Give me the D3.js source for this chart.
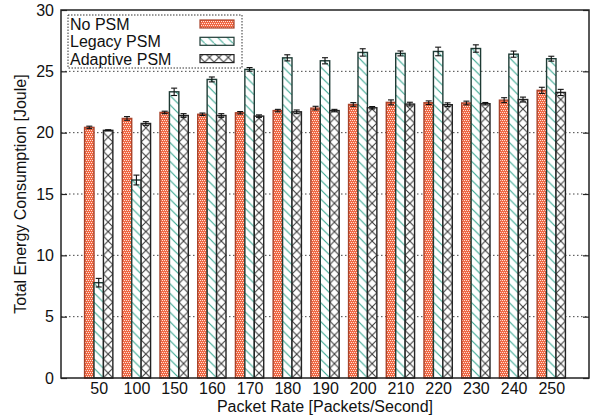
<!DOCTYPE html>
<html>
<head>
<meta charset="utf-8">
<script src="https://cdn.jsdelivr.net/npm/d3@7"></script>
<style>
  body { margin: 0; background: #fff; }
  svg { font-family: "Liberation Sans", Arial, Helvetica, sans-serif; }
</style>
</head>
<body>
<div id="chart"></div>
<script>
// packet rates on the x axis
const rates = ["50", "100", "150", "160", "170", "180", "190", "200", "210", "220", "230", "240", "250"];
const seriesNames = ["No PSM", "Legacy PSM", "Adaptive PSM"];

// energy values [Joule]
const noPsm    = [20.43, 21.16, 21.65, 21.50, 21.62, 21.80, 22.00, 22.30, 22.47, 22.44, 22.42, 22.65, 23.45];
const legacy   = [7.77, 16.14, 23.33, 24.34, 25.16, 26.10, 25.86, 26.54, 26.46, 26.62, 26.86, 26.40, 26.03];
const adaptive = [20.19, 20.75, 21.40, 21.40, 21.35, 21.70, 21.80, 22.03, 22.33, 22.28, 22.36, 22.70, 23.28];

// error bar half-widths
const noPsmErr    = [0.10, 0.15, 0.10, 0.10, 0.10, 0.10, 0.15, 0.15, 0.20, 0.15, 0.15, 0.20, 0.25];
const legacyErr   = [0.35, 0.40, 0.30, 0.20, 0.15, 0.25, 0.25, 0.30, 0.20, 0.35, 0.30, 0.25, 0.20];
const adaptiveErr = [0.05, 0.15, 0.15, 0.15, 0.10, 0.15, 0.10, 0.10, 0.15, 0.15, 0.10, 0.20, 0.25];

const yTicks = [0, 5, 10, 15, 20, 25, 30];

const margin = { top: 10, right: 5, bottom: 41, left: 61 },
  width = 594 - margin.left - margin.right,
  height = 419 - margin.top - margin.bottom;

const barW = 0.25; // in group units

const series = [
  { name: seriesNames[0], values: noPsm, err: noPsmErr, fill: "url(#pRed)", stroke: "#a8432b" },
  { name: seriesNames[1], values: legacy, err: legacyErr, fill: "url(#pGreen)", stroke: "#1e3b35" },
  { name: seriesNames[2], values: adaptive, err: adaptiveErr, fill: "url(#pCross)", stroke: "#222" }
];

const x = d3.scaleLinear().domain([-1, 13]).range([0, width]);
const y = d3.scaleLinear().domain([0, 30]).range([height, 0]);

const svgRoot = d3.select("#chart").append("svg")
  .attr("width", 594)
  .attr("height", 419);

const svg = svgRoot.append("g")
  .attr("transform", `translate(${margin.left},${margin.top})`);

// fill patterns
const defs = svgRoot.append("defs");
const bw = x(barW) - x(0);
const px0 = x(-1.5 * barW);

const pRed = defs.append("pattern")
  .attr("id", "pRed").attr("patternUnits", "userSpaceOnUse")
  .attr("width", 4).attr("height", 4);
pRed.append("rect").attr("width", 4).attr("height", 4).attr("fill", "#f06844");
[[0, 0], [2, 0], [1, 2], [3, 2]].forEach(p => {
  pRed.append("rect").attr("x", p[0]).attr("y", p[1]).attr("width", 1).attr("height", 1).attr("fill", "#fde3da");
});

const pGreen = defs.append("pattern")
  .attr("id", "pGreen").attr("patternUnits", "userSpaceOnUse")
  .attr("x", px0).attr("width", bw).attr("height", bw);
pGreen.append("rect").attr("width", bw).attr("height", bw).attr("fill", "#fff");
pGreen.append("line").attr("x1", 0).attr("y1", 0).attr("x2", bw).attr("y2", bw)
  .attr("stroke", "#3aa892").attr("stroke-width", 1.1);

const pCross = defs.append("pattern")
  .attr("id", "pCross").attr("patternUnits", "userSpaceOnUse")
  .attr("x", px0).attr("width", bw).attr("height", bw);
pCross.append("rect").attr("width", bw).attr("height", bw).attr("fill", "#fff");
pCross.append("path").attr("d", `M0,0L${bw},${bw}M${bw},0L0,${bw}`)
  .attr("stroke", "#3a3a3a").attr("stroke-width", 1.1).attr("fill", "none");

// grid lines
svg.append("g")
  .selectAll("line")
  .data(yTicks.filter(d => d > 0 && d < 30))
  .enter().append("line")
  .attr("x1", 0).attr("x2", width)
  .attr("y1", d => y(d)).attr("y2", d => y(d))
  .attr("stroke", "#444")
  .attr("stroke-width", 1)
  .attr("stroke-dasharray", "1.5,2.5");

// bars
series.forEach((s, k) => {
  const off = (k - 1) * barW - barW / 2;
  svg.append("g")
    .selectAll("rect")
    .data(s.values)
    .enter().append("rect")
    .attr("x", (d, i) => x(i + off))
    .attr("y", d => y(d))
    .attr("width", bw)
    .attr("height", d => y(0) - y(d))
    .attr("fill", s.fill)
    .attr("stroke", s.stroke)
    .attr("stroke-width", 1.4);
});

// error bars
series.forEach((s, k) => {
  const g = svg.append("g").attr("stroke", "#111").attr("stroke-width", 1.1);
  s.values.forEach((v, i) => {
    const cx = x(i + (k - 1) * barW);
    const e = s.err[i];
    g.append("line").attr("x1", cx).attr("x2", cx).attr("y1", y(v - e)).attr("y2", y(v + e));
    g.append("line").attr("x1", cx - 3).attr("x2", cx + 3).attr("y1", y(v - e)).attr("y2", y(v - e));
    g.append("line").attr("x1", cx - 3).attr("x2", cx + 3).attr("y1", y(v + e)).attr("y2", y(v + e));
  });
});

// axes
svg.append("g")
  .call(d3.axisLeft(y).tickValues(yTicks).tickSize(-6).tickPadding(7));
svg.append("g")
  .attr("transform", `translate(${width},0)`)
  .call(d3.axisRight(y).tickValues(yTicks).tickSize(-6).tickFormat(""));
const xAxis = svg.append("g")
  .attr("transform", `translate(0,${height})`)
  .call(d3.axisBottom(x).tickValues(d3.range(rates.length)).tickSize(0).tickPadding(16)
    .tickFormat(i => rates[i]));

svg.selectAll(".domain").remove();
svg.selectAll(".tick line").attr("stroke", "#222").attr("stroke-width", 1.2);
svg.selectAll(".tick text").attr("fill", "#111").style("font-size", "16px")
  .style("font-family", "'Liberation Sans', Arial, sans-serif");
xAxis.selectAll(".tick text").attr("dy", "0");

// frame
svg.append("rect")
  .attr("width", width).attr("height", height)
  .attr("fill", "none").attr("stroke", "#222").attr("stroke-width", 1.5);

// axis titles
svg.append("text")
  .attr("x", width / 2).attr("y", height + 34)
  .attr("text-anchor", "middle")
  .style("font-size", "16px").attr("fill", "#111")
  .text("Packet Rate [Packets/Second]");

svg.append("text")
  .attr("transform", `translate(${-margin.left + 26},${height / 2}) rotate(-90)`)
  .attr("text-anchor", "middle")
  .style("font-size", "16px").attr("fill", "#111")
  .text("Total Energy Consumption [Joule]");

// legend
const legend = svg.append("g").attr("transform", "translate(7,5)");
legend.append("rect")
  .attr("width", 174).attr("height", 53)
  .attr("fill", "#fff").attr("stroke", "#333")
  .attr("stroke-width", 1).attr("stroke-dasharray", "1.5,1.5");
series.forEach((s, k) => {
  legend.append("text")
    .attr("x", 2).attr("y", 14.5 + k * 17.5)
    .style("font-size", "16px").attr("fill", "#111")
    .text(s.name);
  legend.append("rect")
    .attr("x", 132).attr("y", 5 + k * 17.3)
    .attr("width", 34).attr("height", 8)
    .attr("fill", s.fill).attr("stroke", s.stroke).attr("stroke-width", 1.2);
});
</script>
</body>
</html>
